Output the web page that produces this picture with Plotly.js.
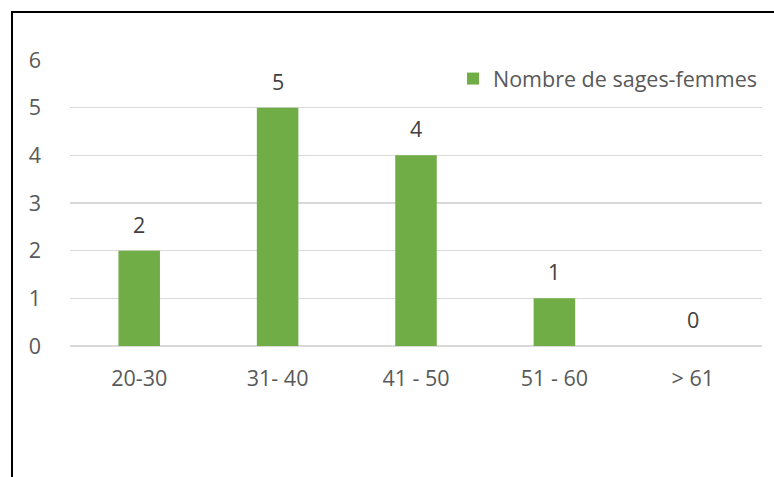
<!DOCTYPE html>
<html>
<head>
<meta charset="utf-8">
<script src="https://cdn.plot.ly/plotly-3.0.1.min.js"></script>
<style>
html,body{margin:0;padding:0;background:#fff;overflow:hidden;}
#wrap{position:relative;width:774px;height:477px;}
#chart{width:774px;height:477px;}
#frame{position:absolute;left:11px;top:11px;width:800px;height:500px;border-left:2px solid #000;border-top:2px solid #000;pointer-events:none;}
</style>
</head>
<body>
<div id="wrap"><div id="chart"></div><div id="frame"></div></div>
<script>
const categories = ["20-30", "31- 40", "41 - 50", "51 - 60", "> 61"];
const values = [2, 5, 4, 1, 0];
const seriesName = "Nombre de sages-femmes";
const yTicks = [0, 1, 2, 3, 4, 5, 6];

const font = "'Open Sans', sans-serif";
const txtColor = "#595959";
const fs = 21.5;

const trace = {
  type: "bar",
  x: categories,
  y: values,
  name: seriesName,
  marker: {color: "#70ad47"},
  showlegend: true,
  hoverinfo: "none"
};

const annotations = categories.map((c, i) => ({
  x: c, y: values[i], xref: "x", yref: "y",
  text: String(values[i]), showarrow: false,
  yanchor: "bottom", yshift: 10,
  font: {family: font, size: fs, color: "#404040"}
}));

const layout = {
  width: 774, height: 477,
  margin: {l: 70, r: 12, t: 60, b: 131},
  paper_bgcolor: "#fff", plot_bgcolor: "#fff",
  bargap: 0.7,
  font: {family: font, size: fs, color: txtColor},
  xaxis: {
    type: "category",
    tickfont: {family: font, size: fs, color: txtColor},
    showgrid: false, zeroline: false, showline: false,
    ticks: "", ticklabelstandoff: 17
  },
  yaxis: {
    range: [0, 6], tickvals: yTicks, ticktext: yTicks.map(String),
    showgrid: true, gridcolor: "#d9d9d9", gridwidth: 1.5,
    zeroline: true, zerolinecolor: "#d9d9d9", zerolinewidth: 1.5,
    showline: false, ticks: "", ticklabelstandoff: 28,
    tickfont: {family: font, size: fs, color: txtColor}
  },
  legend: {
    x: 1, xanchor: "right", y: 0.935, yanchor: "middle",
    bgcolor: "rgba(0,0,0,0)",
    font: {family: font, size: fs, color: txtColor},
    itemwidth: 30
  },
  annotations: annotations
};

Plotly.newPlot("chart", [trace], layout, {staticPlot: true, displayModeBar: false});
</script>
</body>
</html>
